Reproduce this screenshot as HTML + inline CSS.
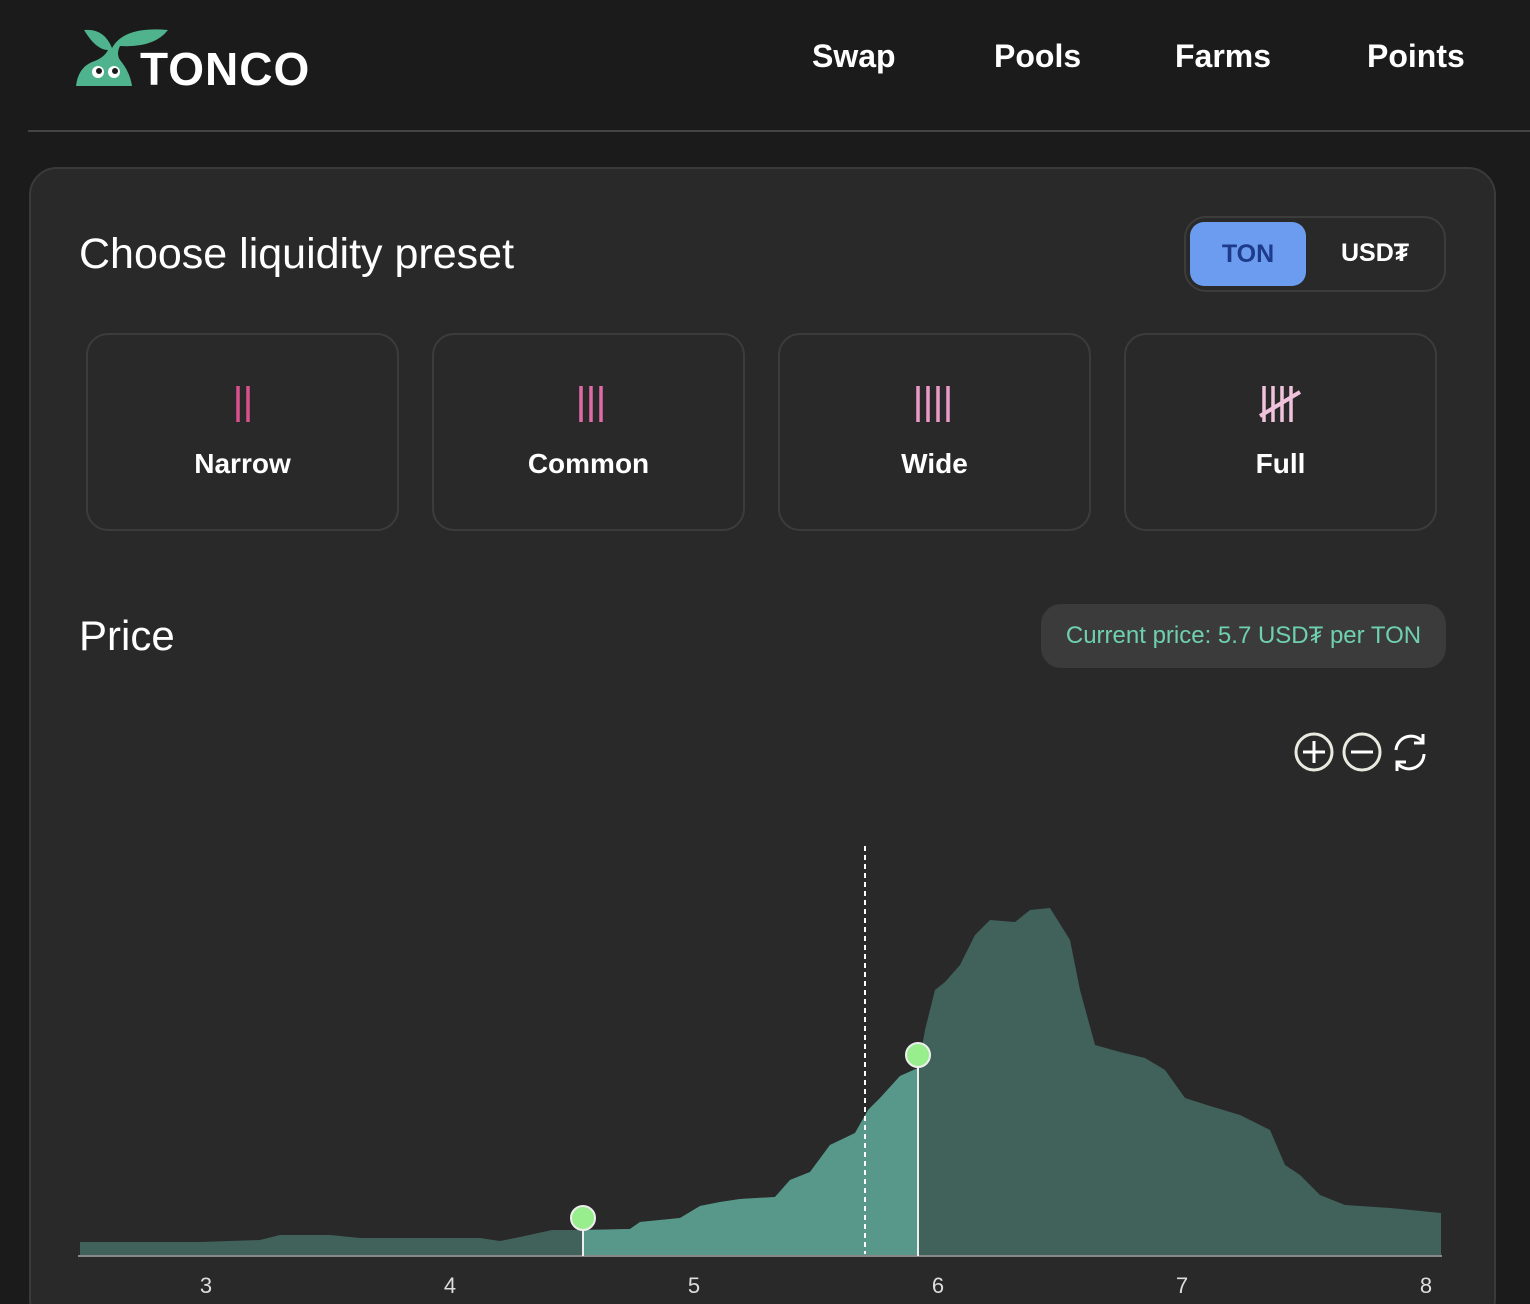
<!DOCTYPE html>
<html style="width:1530px;height:1304px;overflow:hidden"><head><style>
body{margin:0;width:1530px;height:1304px;background:#1b1b1b;overflow:hidden;font-family:"Liberation Sans",sans-serif;position:relative}
.abs{position:absolute}
.nav{color:#fff;font-weight:bold;font-size:32px;top:38px}
.card{left:29px;top:167px;width:1467px;height:1160px;background:#292929;border:2px solid #3a3a3a;border-radius:28px;box-sizing:border-box}
.preset{top:333px;width:313px;height:198px;border:2px solid #3c3c3c;border-radius:22px;box-sizing:border-box;color:#fff;font-size:28px;font-weight:bold;text-align:center}
.preset span{position:absolute;left:0;right:0;top:113px}
</style></head><body>
<svg class="abs" style="left:74px;top:24px" width="100" height="66" viewBox="0 0 100 66">
<path d="M10 6 Q30 4 38 24 Q50 2 94 6 Q80 24 46 22 Q42 30 46 36 Q56 48 58 62 L2 62 Q4 44 18 38 Q30 34 34 26 Q22 26 10 6Z" fill="#4fb38d"/>
<circle cx="24" cy="48" r="6" fill="#fff"/><circle cx="40" cy="48" r="6" fill="#fff"/>
<circle cx="25" cy="47" r="3" fill="#1b1b1b"/><circle cx="41" cy="47" r="3" fill="#1b1b1b"/>
</svg>
<div class="abs" style="left:140px;top:42px;color:#fff;font-size:46px;font-weight:900;letter-spacing:1px">TONCO</div>
<div class="abs nav" style="left:812px">Swap</div>
<div class="abs nav" style="left:994px">Pools</div>
<div class="abs nav" style="left:1175px">Farms</div>
<div class="abs nav" style="left:1367px">Points</div>
<div class="abs" style="left:28px;top:130px;width:1502px;height:2px;background:#444"></div>
<div class="abs card"></div>
<div class="abs" style="left:79px;top:230px;color:#fff;font-size:43px">Choose liquidity preset</div>
<div class="abs" style="left:1184px;top:216px;width:262px;height:76px;border:2px solid #3c3c3c;border-radius:22px;box-sizing:border-box"></div>
<div class="abs" style="left:1190px;top:222px;width:116px;height:64px;background:#6b9cf0;border-radius:14px;color:#1d3b8a;font-size:25px;font-weight:bold;line-height:64px;text-align:center">TON</div>
<div class="abs" style="left:1341px;top:239px;color:#fff;font-size:25px;font-weight:bold">USD₮</div>
<div class="abs preset" style="left:86px"><span>Narrow</span></div>
<div class="abs preset" style="left:432px"><span>Common</span></div>
<div class="abs preset" style="left:778px"><span>Wide</span></div>
<div class="abs preset" style="left:1124px"><span>Full</span></div>
<svg class="abs" style="left:0;top:0" width="1530" height="1304">
<g stroke-width="3.5">
<g stroke="#d9508c"><line x1="238" y1="386" x2="238" y2="422"/><line x1="248" y1="386" x2="248" y2="422"/></g>
<g stroke="#e06aa5"><line x1="581" y1="386" x2="581" y2="422"/><line x1="591" y1="386" x2="591" y2="422"/><line x1="601" y1="386" x2="601" y2="422"/></g>
<g stroke="#e99ac6"><line x1="918" y1="386" x2="918" y2="422"/><line x1="928" y1="386" x2="928" y2="422"/><line x1="938" y1="386" x2="938" y2="422"/><line x1="948" y1="386" x2="948" y2="422"/></g>
<g stroke="#f1c2dc"><line x1="1264" y1="386" x2="1264" y2="422"/><line x1="1273" y1="386" x2="1273" y2="422"/><line x1="1282" y1="386" x2="1282" y2="422"/><line x1="1291" y1="386" x2="1291" y2="422"/><line x1="1260" y1="416" x2="1300" y2="392" stroke-width="4"/></g>
</g>
<g fill="none" stroke="#fff" stroke-width="3">
<circle cx="1314" cy="752" r="18" stroke="#e8ece0"/><line x1="1303" y1="752" x2="1325" y2="752"/><line x1="1314" y1="741" x2="1314" y2="763"/>
<circle cx="1362" cy="752" r="18" stroke="#e8ece0"/><line x1="1351" y1="752" x2="1373" y2="752"/>
<path d="M1396 750 A15 15 0 0 1 1422 741 M1424 754 A15 15 0 0 1 1398 764"/>
<path d="M1423 734 L1423 743 L1414 743 M1397 771 L1397 762 L1406 762"/>
</g>
<defs>
<clipPath id="c"><rect x="583" y="800" width="335" height="460"/></clipPath>
<path id="a" d="M80 1256 L80 1242 L200 1242 L260 1240 L280 1235 L330 1235 L360 1238 L480 1238 L500 1241 L520 1237 L552 1230 L580 1230 L630 1229 L640 1222 L680 1218 L700 1206 L720 1202 L740 1199 L775 1197 L790 1180 L810 1172 L830 1145 L855 1133 L868 1110 L880 1098 L900 1076 L918 1068 L925 1030 L935 990 L945 982 L960 965 L975 935 L990 920 L1015 922 L1030 910 L1050 908 L1070 940 L1080 990 L1095 1045 L1120 1052 L1145 1058 L1165 1070 L1185 1098 L1210 1106 L1240 1115 L1270 1130 L1285 1165 L1300 1175 L1320 1195 L1345 1205 L1390 1208 L1441 1213 L1441 1256Z"/>
</defs>
<use href="#a" fill="#40625a"/>
<use href="#a" fill="#58988a" clip-path="url(#c)"/>
<line x1="78" y1="1256" x2="1442" y2="1256" stroke="#888" stroke-width="2"/>
<line x1="865" y1="846" x2="865" y2="1254" stroke="#fff" stroke-width="2" stroke-dasharray="5,4"/>
<line x1="583" y1="1218" x2="583" y2="1256" stroke="#eee" stroke-width="2"/>
<line x1="918" y1="1055" x2="918" y2="1256" stroke="#eee" stroke-width="2"/>
<circle cx="583" cy="1218" r="12" fill="#98ee8c" stroke="#eee" stroke-width="2"/>
<circle cx="918" cy="1055" r="12" fill="#98ee8c" stroke="#eee" stroke-width="2"/>
<g fill="#ddd" font-size="22" text-anchor="middle" font-family="Liberation Sans">
<text x="206" y="1293">3</text><text x="450" y="1293">4</text><text x="694" y="1293">5</text><text x="938" y="1293">6</text><text x="1182" y="1293">7</text><text x="1426" y="1293">8</text>
</g>
</svg>
<div class="abs" style="left:79px;top:612px;color:#fff;font-size:42px">Price</div>
<div class="abs" style="left:1041px;top:604px;width:405px;height:64px;background:#3b3b3b;border-radius:20px;color:#6fd0b0;font-size:24px;line-height:64px;text-align:center">Current price: 5.7 USD₮ per TON</div>
</body></html>
